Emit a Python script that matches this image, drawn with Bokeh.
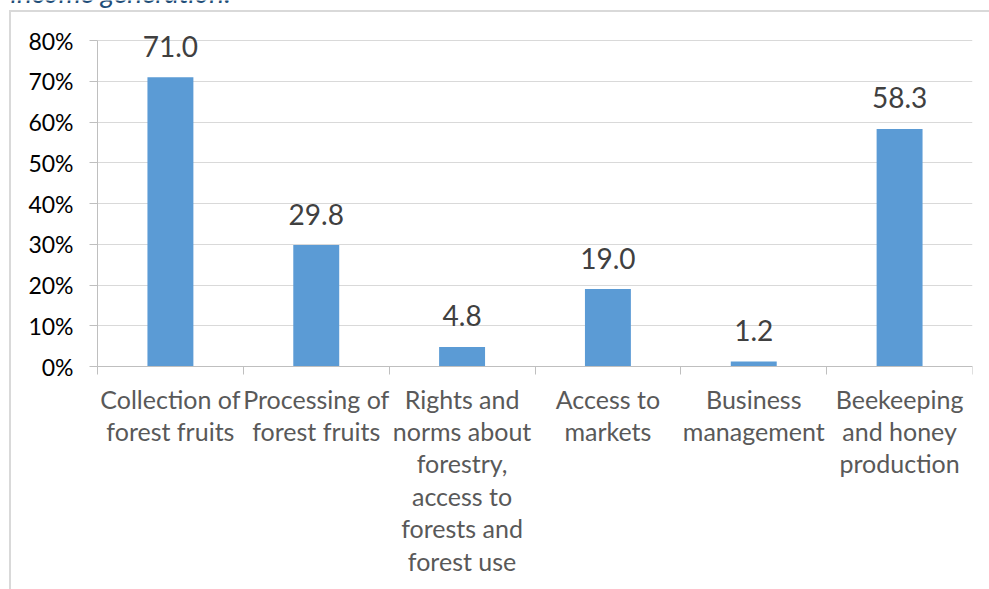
from bokeh.plotting import figure
from bokeh.models import FixedTicker, Range1d, Label, ColumnDataSource
from bokeh.core.properties import value
from bokeh.embed import file_html
from bokeh.resources import INLINE
import numpy as np

categories = [
    "Collection of\nforest fruits",
    "Processing of\nforest fruits",
    "Rights and\nnorms about\nforestry,\naccess to\nforests and\nforest use",
    "Access to\nmarkets",
    "Business\nmanagement",
    "Beekeeping\nand honey\nproduction",
]
values = [71.0, 29.8, 4.8, 19.0, 1.2, 58.3]
y_ticks = [0, 10, 20, 30, 40, 50, 60, 70, 80]
y_tick_labels = ["0%", "10%", "20%", "30%", "40%", "50%", "60%", "70%", "80%"]
caption = "income generation."

n = len(categories)
xs = np.arange(n) + 0.5
src = ColumnDataSource(dict(x=xs, v=values, lab=[f"{v:.1f}" for v in values]))

FONT = "Lato"

# The frame covers the whole canvas (except a right margin) so that the data
# labels, tick labels and the cut-off caption are not clipped; the axes sit
# inside it at fixed locations.
W, H = 989, 589
plot_left, plot_right, plot_top, plot_bottom = 97, 972, 40, 366
x_start = -plot_left / ((plot_right - plot_left) / n)
px_per_unit = (plot_bottom - plot_top) / y_ticks[-1]
y_top = plot_bottom / px_per_unit
y_start = -(H - plot_bottom) / px_per_unit

p = figure(width=W, height=H, output_backend="svg", toolbar_location=None,
           x_range=Range1d(x_start, n), y_range=Range1d(y_start, y_top),
           min_border_left=0, min_border_right=W - plot_right, min_border_top=0,
           min_border_bottom=0)
p.outline_line_color = None
p.background_fill_color = None
p.border_fill_color = None
# outer chart frame (light grey line on the left and top)
p.styles = {
    "background-color": "white",
    "background-image": "linear-gradient(#d9d9d9, #d9d9d9), linear-gradient(#d9d9d9, #d9d9d9)",
    "background-size": "2px 100%, 100% 2px",
    "background-position": "9px 10px, 9px 10px",
    "background-repeat": "no-repeat",
}

p.vbar(x="x", top="v", width=0.315, bottom=0, source=src, color="#5B9BD5", line_color=None)
p.text(x="x", y="v", text="lab", source=src, text_align="center", text_baseline="alphabetic",
       y_offset=-31, text_font=value(FONT), text_font_size="28px", text_color="#404040")

# y axis, fixed at the first category boundary
p.yaxis.fixed_location = 0
p.yaxis.ticker = FixedTicker(ticks=y_ticks)
p.yaxis.bounds = (y_ticks[0], y_ticks[-1])
p.yaxis.major_label_overrides = {t: l for t, l in zip(y_ticks, y_tick_labels)}
p.yaxis.major_label_text_font = FONT
p.yaxis.major_label_text_font_size = "23px"
p.yaxis.major_label_text_color = "#000000"
p.yaxis.axis_line_color = "#bfbfbf"
p.yaxis.major_tick_line_color = "#bfbfbf"
p.yaxis.major_tick_out = 8
p.yaxis.major_tick_in = 0
p.yaxis.minor_tick_line_color = None
p.yaxis.major_label_standoff = 16

# x axis at 0%: labels at centres, tick marks at boundaries
p.xaxis.fixed_location = 0
p.xaxis.ticker = FixedTicker(ticks=list(xs), minor_ticks=list(range(n + 1)))
p.xaxis.bounds = (0, n)
p.xaxis.major_label_overrides = {float(x): c for x, c in zip(xs, categories)}
p.xaxis.major_label_text_font = FONT
p.xaxis.major_label_text_font_size = "25px"
p.xaxis.major_label_text_color = "#595959"
p.xaxis.major_label_text_line_height = 1.08
p.xaxis.axis_line_color = "#bfbfbf"
p.xaxis.major_tick_line_color = None
p.xaxis.major_tick_out = 0
p.xaxis.major_tick_in = 0
p.xaxis.minor_tick_line_color = "#bfbfbf"
p.xaxis.minor_tick_out = 8
p.xaxis.minor_tick_in = 0
p.xaxis.major_label_standoff = 9

p.xgrid.grid_line_color = None
p.ygrid.ticker = FixedTicker(ticks=y_ticks)
p.ygrid.cross_bounds = (0, n)
p.ygrid.grid_line_color = "#d9d9d9"
p.ygrid.grid_line_width = 1

# caption of the document, cut off by the top edge as in the original
cap = Label(x=10, y=H - 4 + 13, x_units="screen", y_units="screen", text=caption,
            text_font=FONT, text_font_size="28px", text_font_style="italic",
            text_color="#1F4E79", text_baseline="alphabetic")
p.add_layout(cap)

open("out.html", "w").write(file_html(p, INLINE))
